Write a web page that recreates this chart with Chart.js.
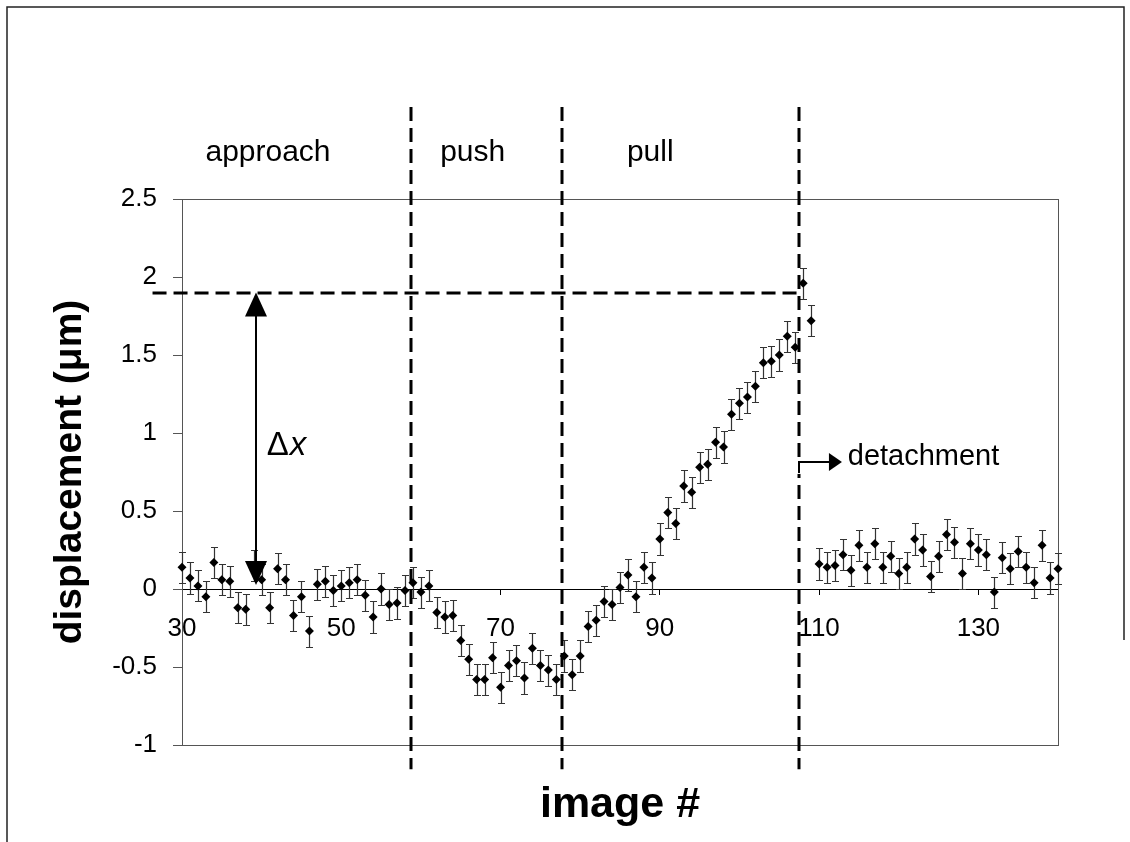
<!DOCTYPE html>
<html>
<head>
<meta charset="utf-8">
<script src="https://cdn.jsdelivr.net/npm/chart.js@4.4.1/dist/chart.umd.min.js"></script>
<style>
  html, body { margin: 0; padding: 0; background: #fff; }
  #wrap { width: 1130px; height: 842px; position: relative; }
</style>
</head>
<body>
<div id="wrap"><canvas id="c" width="1130" height="842"></canvas></div>
<script>
// Image number of each frame and the measured bead displacement (µm)
const imageNumbers = [
  30, 31, 32, 33, 34, 35, 36, 37, 38, 39, 40, 41, 42, 43, 44, 45, 46, 47, 48, 49,
  50, 51, 52, 53, 54, 55, 56, 57, 58, 59, 60, 61, 62, 63, 64, 65, 66, 67, 68, 69,
  70, 71, 72, 73, 74, 75, 76, 77, 78, 79, 80, 81, 82, 83, 84, 85, 86, 87, 88, 89,
  90, 91, 92, 93, 94, 95, 96, 97, 98, 99, 100, 101, 102, 103, 104, 105, 106, 107, 108, 109,
  110, 111, 112, 113, 114, 115, 116, 117, 118, 119, 120, 121, 122, 123, 124, 125, 126, 127, 128, 129,
  130, 131, 132, 133, 134, 135, 136, 137, 138, 139, 140
];
const displacement = [
  0.14, 0.07, 0.02, -0.05, 0.17, 0.06, 0.05, -0.12, -0.13, 0.15, 0.06, -0.12, 0.13, 0.06, -0.17, -0.05, -0.27, 0.03, 0.05, -0.01,
  0.02, 0.04, 0.06, -0.04, -0.18, 0.00, -0.10, -0.09, -0.01, 0.04, -0.02, 0.02, -0.15, -0.18, -0.17, -0.33, -0.45, -0.58, -0.58, -0.44,
  -0.63, -0.49, -0.46, -0.57, -0.38, -0.49, -0.52, -0.58, -0.43, -0.55, -0.43, -0.24, -0.20, -0.08, -0.10, 0.01, 0.09, -0.05, 0.14, 0.07,
  0.32, 0.49, 0.42, 0.66, 0.62, 0.78, 0.80, 0.94, 0.91, 1.12, 1.19, 1.23, 1.30, 1.45, 1.46, 1.50, 1.62, 1.55, 1.96, 1.72,
  0.16, 0.14, 0.15, 0.22, 0.12, 0.28, 0.14, 0.29, 0.14, 0.21, 0.10, 0.14, 0.32, 0.25, 0.08, 0.21, 0.35, 0.30, 0.10, 0.29,
  0.25, 0.22, -0.02, 0.20, 0.13, 0.24, 0.14, 0.04, 0.28, 0.07, 0.13
];
// Half-length of each error bar (µm)
const errorHalfWidth = 0.1;

// Axis ticks
const xTickValues = [30, 50, 70, 90, 110, 130];
const yTickValues = [-1, -0.5, 0, 0.5, 1, 1.5, 2, 2.5];

// Experiment phases and the image numbers that separate them
const phaseNames = ['approach', 'push', 'pull'];
const phaseBoundaries = [58.8, 77.75, 107.45];
// Displacement reached just before detachment (Δx reference level)
const peakLevel = 1.9;

const FONT = '"Liberation Sans", Arial, Helvetica, sans-serif';

// Where the annotation texts sit, in data units
const phaseLabelX = [40.8, 66.5, 88.8];
const phaseLabelY = 2.744;

const frameAndBars = {
  id: 'frameAndBars',
  beforeDatasetsDraw(chart) {
    const { ctx, chartArea: a, scales: { x, y } } = chart;
    ctx.save();
    // plot frame
    ctx.strokeStyle = '#555';
    ctx.lineWidth = 1;
    ctx.strokeRect(Math.round(a.left) + 0.5, Math.round(a.top) + 0.5,
                   Math.round(a.right - a.left), Math.round(a.bottom - a.top));
    // error bars
    ctx.strokeStyle = '#333';
    ctx.lineWidth = 1.2;
    ctx.beginPath();
    imageNumbers.forEach((n, i) => {
      const px = Math.round(x.getPixelForValue(n)) + 0.5;
      const top = Math.round(y.getPixelForValue(displacement[i] + errorHalfWidth)) + 0.5;
      const bot = Math.round(y.getPixelForValue(displacement[i] - errorHalfWidth)) + 0.5;
      ctx.moveTo(px, top); ctx.lineTo(px, bot);
      ctx.moveTo(px - 3.5, top); ctx.lineTo(px + 3.5, top);
      ctx.moveTo(px - 3.5, bot); ctx.lineTo(px + 3.5, bot);
    });
    ctx.stroke();
    ctx.restore();
  }
};

function arrowHead(ctx, tipX, tipY, dir, len, half) {
  // dir: 'up' | 'down' | 'right'
  ctx.beginPath();
  if (dir === 'up') {
    ctx.moveTo(tipX, tipY); ctx.lineTo(tipX - half, tipY + len); ctx.lineTo(tipX + half, tipY + len);
  } else if (dir === 'down') {
    ctx.moveTo(tipX, tipY); ctx.lineTo(tipX - half, tipY - len); ctx.lineTo(tipX + half, tipY - len);
  } else {
    ctx.moveTo(tipX, tipY); ctx.lineTo(tipX - len, tipY - half); ctx.lineTo(tipX - len, tipY + half);
  }
  ctx.closePath();
  ctx.fill();
}

const annotations = {
  id: 'annotations',
  afterDatasetsDraw(chart) {
    const { ctx, chartArea: a, scales: { x, y } } = chart;
    const X = v => x.getPixelForValue(v);
    const Y = v => y.getPixelForValue(v);
    ctx.save();
    ctx.fillStyle = '#000';
    ctx.strokeStyle = '#000';

    // phase boundaries
    ctx.lineWidth = 3;
    ctx.setLineDash([14, 7]);
    ctx.beginPath();
    phaseBoundaries.forEach(b => {
      const px = Math.round(X(b));
      ctx.moveTo(px, Y(3.09));
      ctx.lineTo(px, Y(-1.155));
    });
    // level reached before detachment
    ctx.moveTo(X(26.3), Math.round(Y(peakLevel)));
    ctx.lineTo(Math.round(X(phaseBoundaries[2])), Math.round(Y(peakLevel)));
    ctx.stroke();
    ctx.setLineDash([]);

    // Δx double arrow
    const ax = Math.round(X(39.3));
    const aTop = Y(peakLevel), aBot = Y(0.025);
    ctx.lineWidth = 2;
    ctx.beginPath();
    ctx.moveTo(ax, aTop + 20); ctx.lineTo(ax, aBot - 20);
    ctx.stroke();
    arrowHead(ctx, ax, aTop, 'up', 24, 11);
    arrowHead(ctx, ax, aBot, 'down', 24, 11);

    // Δx label
    ctx.textBaseline = 'alphabetic';
    ctx.textAlign = 'left';
    ctx.font = `33px ${FONT}`;
    const dx = X(40.63), dy = Y(0.86);
    ctx.fillText('Δ', dx, dy);
    const w = ctx.measureText('Δ').width;
    ctx.font = `italic 33px ${FONT}`;
    ctx.fillText('x', dx + w + 1, dy);

    // detachment marker
    const bx = Math.round(X(phaseBoundaries[2]));
    const hy = Math.round(Y(0.814));
    ctx.lineWidth = 2;
    ctx.fillStyle = '#fff';
    ctx.fillRect(bx - 3, hy - 1, 6, Y(0.744) - hy + 2);
    ctx.fillStyle = '#000';
    ctx.beginPath();
    ctx.moveTo(bx, Y(0.744)); ctx.lineTo(bx, hy); ctx.lineTo(X(111.4), hy);
    ctx.stroke();
    arrowHead(ctx, X(112.87), hy, 'right', 13, 9);
    ctx.font = `29px ${FONT}`;
    ctx.fillText('detachment', X(113.6), Y(0.795));

    // phase names
    ctx.textAlign = 'center';
    ctx.font = `30px ${FONT}`;
    phaseNames.forEach((name, i) => ctx.fillText(name, X(phaseLabelX[i]), Y(phaseLabelY)));

    // x-axis title
    ctx.font = `bold 43px ${FONT}`;
    ctx.textBaseline = 'middle';
    ctx.fillText('image #', (a.left + a.right) / 2, a.bottom + 60);
    ctx.restore();
  },
  afterDraw(chart) {
    const { ctx } = chart;
    ctx.save();
    ctx.strokeStyle = '#222';
    ctx.lineWidth = 1.5;
    ctx.beginPath();
    ctx.moveTo(7, 842); ctx.lineTo(7, 7); ctx.lineTo(1124, 7); ctx.lineTo(1124, 640);
    ctx.stroke();
    ctx.restore();
  }
};

new Chart(document.getElementById('c'), {
  type: 'scatter',
  data: {
    datasets: [{
      data: imageNumbers.map((n, i) => ({ x: n, y: displacement[i] })),
      pointStyle: 'rectRot',
      pointRadius: 4.5,
      backgroundColor: '#000',
      borderColor: '#000',
      borderWidth: 0,
      clip: false
    }]
  },
  options: {
    responsive: false,
    animation: false,
    layout: { padding: { left: 0, top: 199, right: 72, bottom: 97 } },
    plugins: { legend: { display: false }, tooltip: { enabled: false } },
    scales: {
      x: {
        type: 'linear',
        position: { y: 0 },
        min: 30, max: 140,
        afterBuildTicks: s => { s.ticks = xTickValues.map(v => ({ value: v })); },
        grid: { drawOnChartArea: false, drawTicks: true, tickLength: 5, tickColor: '#000' },
        border: { display: true, color: '#000', width: 1 },
        ticks: { font: { family: FONT, size: 26 }, color: '#000', padding: 19, maxRotation: 0, autoSkip: false,
                 callback: v => String(v) }
      },
      y: {
        type: 'linear',
        position: 'left',
        min: -1, max: 2.5,
        afterBuildTicks: s => { s.ticks = yTickValues.map(v => ({ value: v })); },
        afterFit: s => { s.width = 182; },
        grid: { drawOnChartArea: false, tickLength: 9, tickColor: '#555' },
        border: { display: true, color: '#555', width: 1 },
        ticks: { font: { family: FONT, size: 26 }, color: '#000', padding: 16, callback: v => String(v) },
        title: { display: true, text: 'displacement (μm)', color: '#000',
                 font: { family: FONT, size: 39, weight: 'bold' }, padding: { top: 47, bottom: 0 } }
      }
    }
  },
  plugins: [frameAndBars, annotations]
});
</script>
</body>
</html>
